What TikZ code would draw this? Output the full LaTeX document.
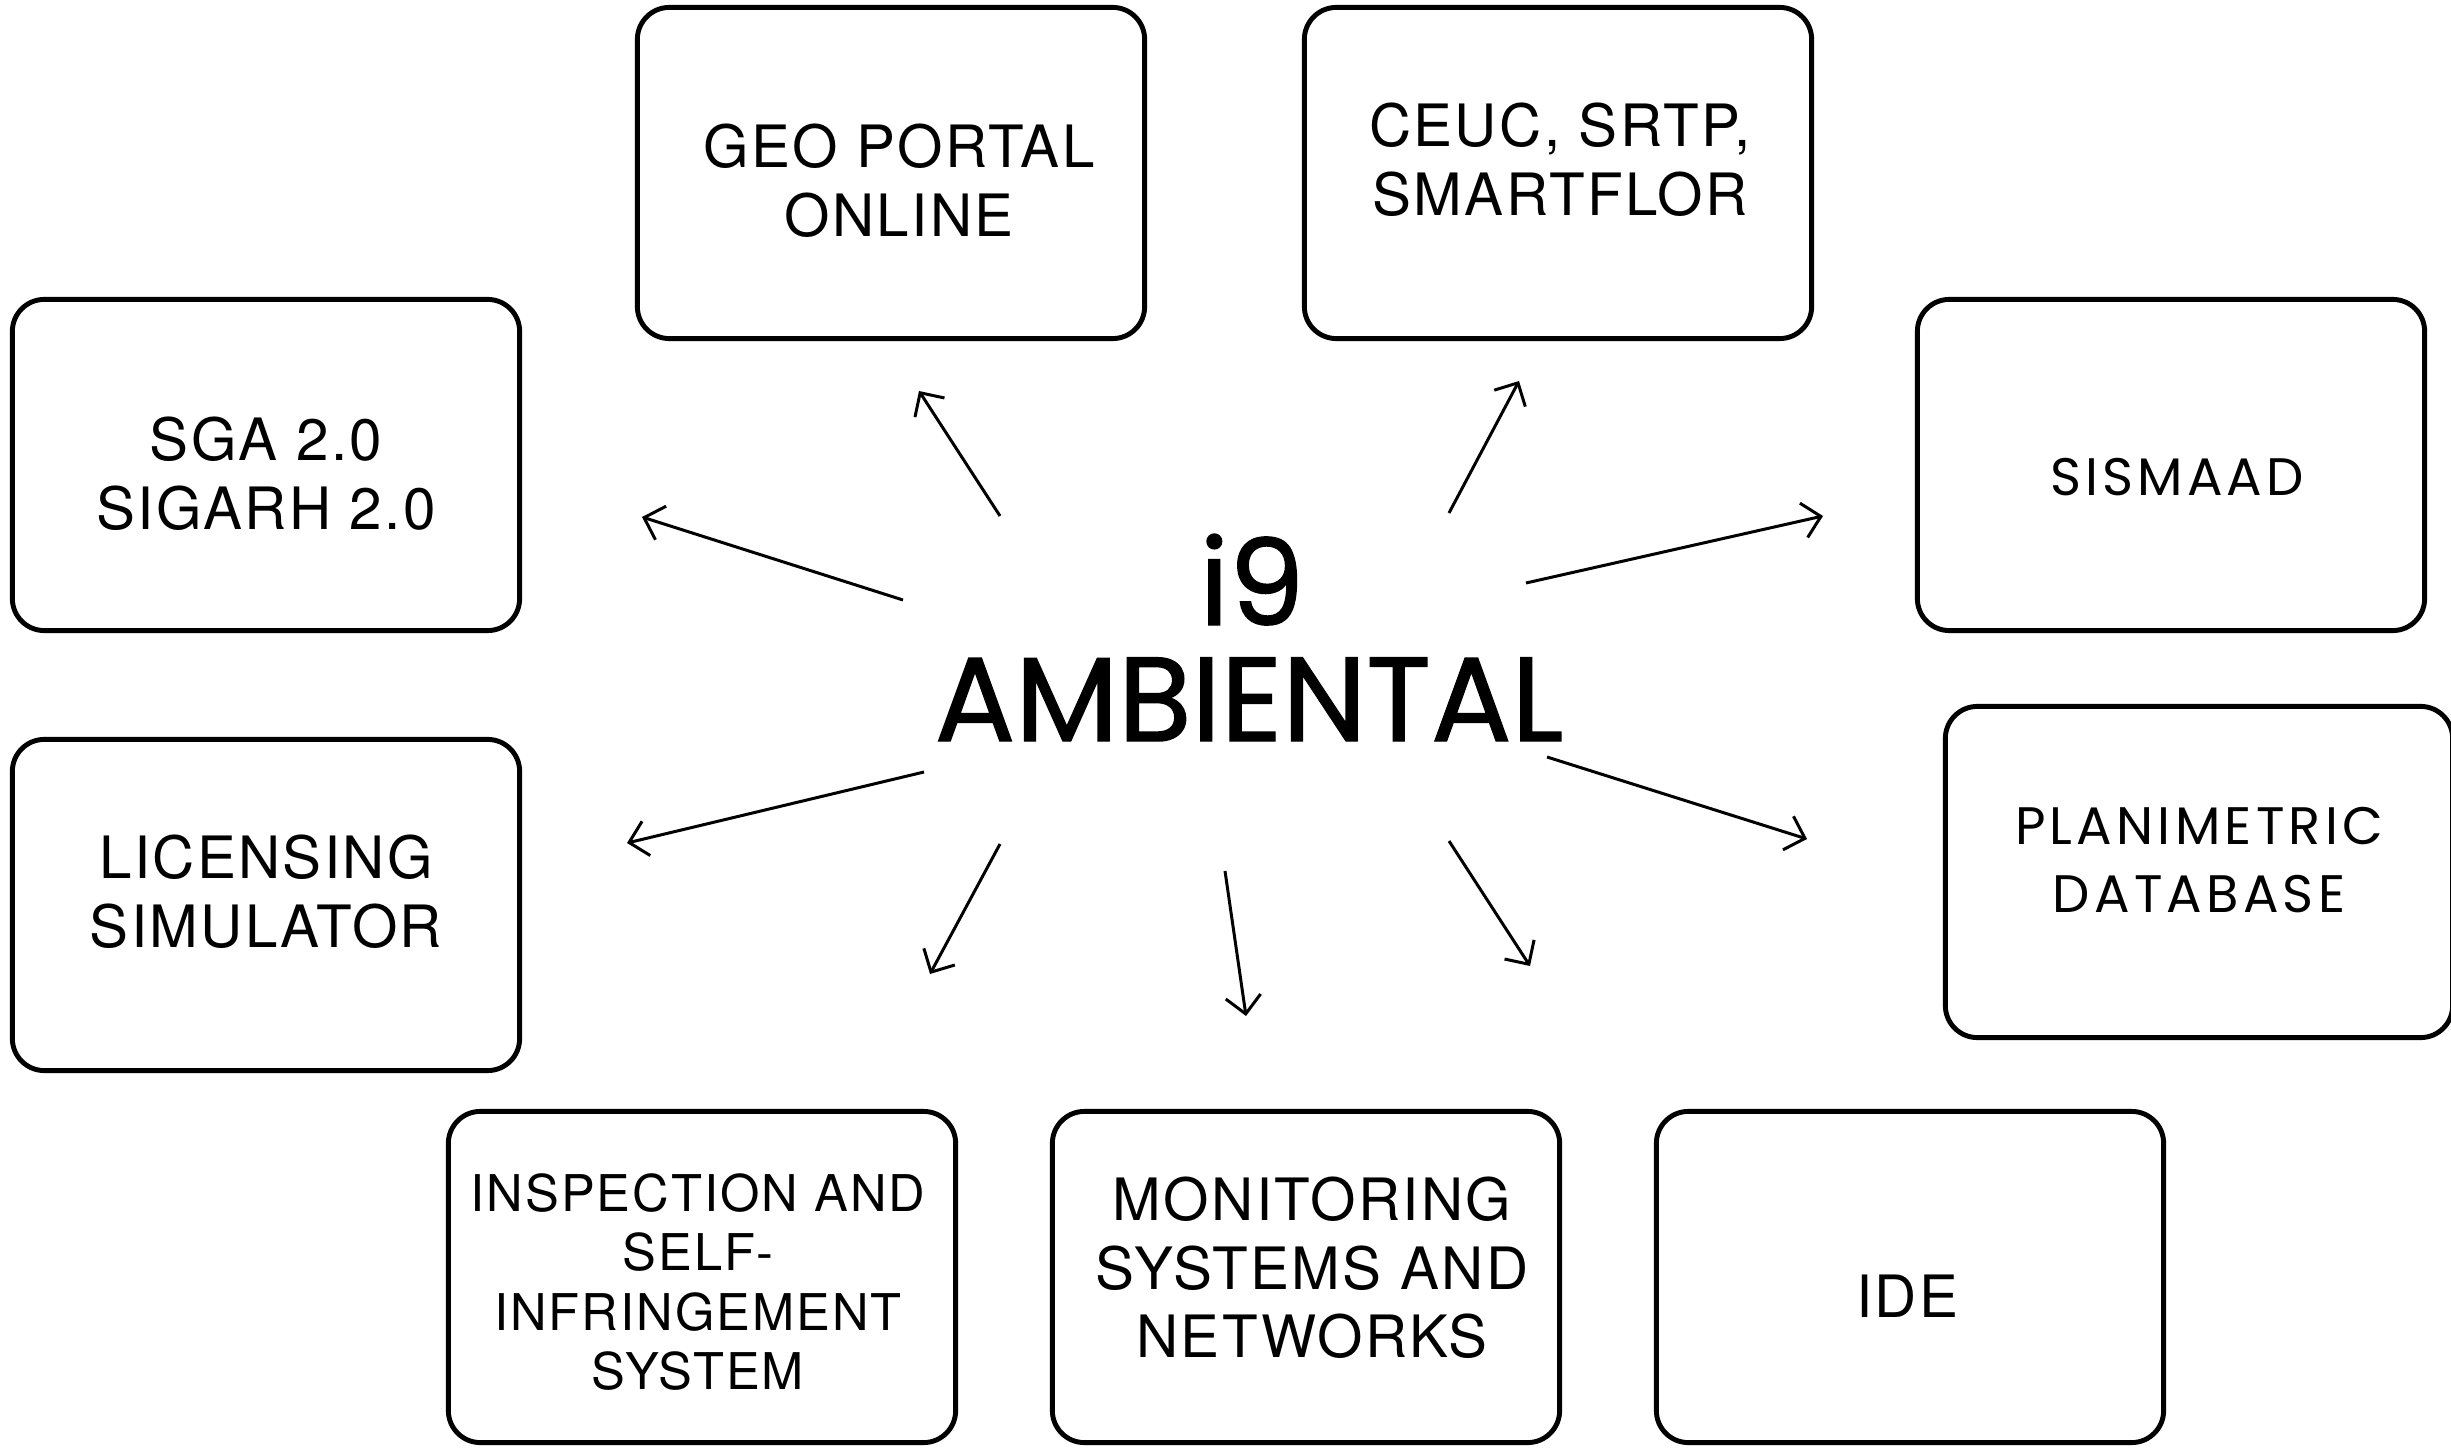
\documentclass[tikz,border=0pt]{standalone}
\usepackage{fontspec}
\setmainfont{TeX Gyre Heros}[LetterSpace=4]
\newfontfamily\widefont{Poppins}[LetterSpace=8]
\newfontfamily\centerfont{Poppins}[FakeBold=1.2]
\usetikzlibrary{arrows.meta}
\begin{document}
\begin{tikzpicture}[x=0.01cm,y=-0.01cm,
  boxnode/.style={draw=black,line width=1.4pt,rounded corners=0.32cm,minimum width=5.07cm,minimum height=3.31cm,fill=white},
  boxtext/.style={align=center,inner sep=0pt,font=\fontsize{16.6}{19.5}\selectfont},
  widetext/.style={align=center,inner sep=0pt,font=\widefont\fontsize{15}{19.5}\selectfont},
  spoke/.style={line width=0.85pt,-{Straight Barb[length=5pt,width=10pt]}}]
\useasboundingbox (0,0) rectangle (2451,1449);
% boxes
\node[boxnode] (geo) at (891,173) {};
\node[boxnode] (ceuc) at (1558,173) {};
\node[boxnode] (sga) at (266,465) {};
\node[boxnode] (sis) at (2171,465) {};
\node[boxnode] (lic) at (266,905) {};
\node[boxnode] (plan) at (2199,872) {};
\node[boxnode] (insp) at (702,1277) {};
\node[boxnode] (mon) at (1306,1277) {};
\node[boxnode] (ide) at (1910,1277) {};
% texts
\node[boxtext] (geot) at (899,181) {GEO PORTAL\\ONLINE};
\node[boxtext] (ceuct) at (1560,160) {CEUC, SRTP,\\SMARTFLOR};
\node[boxtext] (sgat) at (266,474) {SGA 2.0\\SIGARH 2.0};
\node[widetext] (sist) at (2177,477) {SISMAAD};
\node[boxtext] (lict) at (266,892) {LICENSING\\SIMULATOR};
\node[widetext] (plant) at (2199,860) {PLANIMETRIC\\DATABASE};
\node[boxtext,font=\fontsize{14.4}{16.8}\selectfont] (inspt) at (698,1282) {INSPECTION AND\\SELF-\\INFRINGEMENT\\SYSTEM};
\node[boxtext] (mont) at (1312,1268) {MONITORING\\SYSTEMS AND\\NETWORKS};
\node[boxtext] (idet) at (1907,1296) {IDE};
% center
\node[inner sep=0pt,anchor=base,font=\centerfont\fontsize{34}{34}\selectfont] (i9) at (1252,625) {i9};
\node[inner sep=0pt,anchor=base,font=\centerfont\fontsize{34}{34}\selectfont] (amb) at (1249,741) {AMBIENTAL};
% spoke coordinates
\coordinate (s1) at (1000,516); \coordinate (e1) at (919,391);
\coordinate (s2) at (1449,513); \coordinate (e2) at (1519,381);
\coordinate (s3) at (903,600);  \coordinate (e3) at (642,517);
\coordinate (s4) at (1526,583); \coordinate (e4) at (1823,516);
\coordinate (s5) at (924,772);  \coordinate (e5) at (627,843);
\coordinate (s6) at (1547,757); \coordinate (e6) at (1807,839);
\coordinate (s7) at (1000,844); \coordinate (e7) at (930,974);
\coordinate (s8) at (1225,871); \coordinate (e8) at (1246,1016);
\coordinate (s9) at (1449,841); \coordinate (e9) at (1530,966);
\foreach \i in {1,...,9} {\draw[spoke] (s\i) -- (e\i);}
\end{tikzpicture}
\end{document}
